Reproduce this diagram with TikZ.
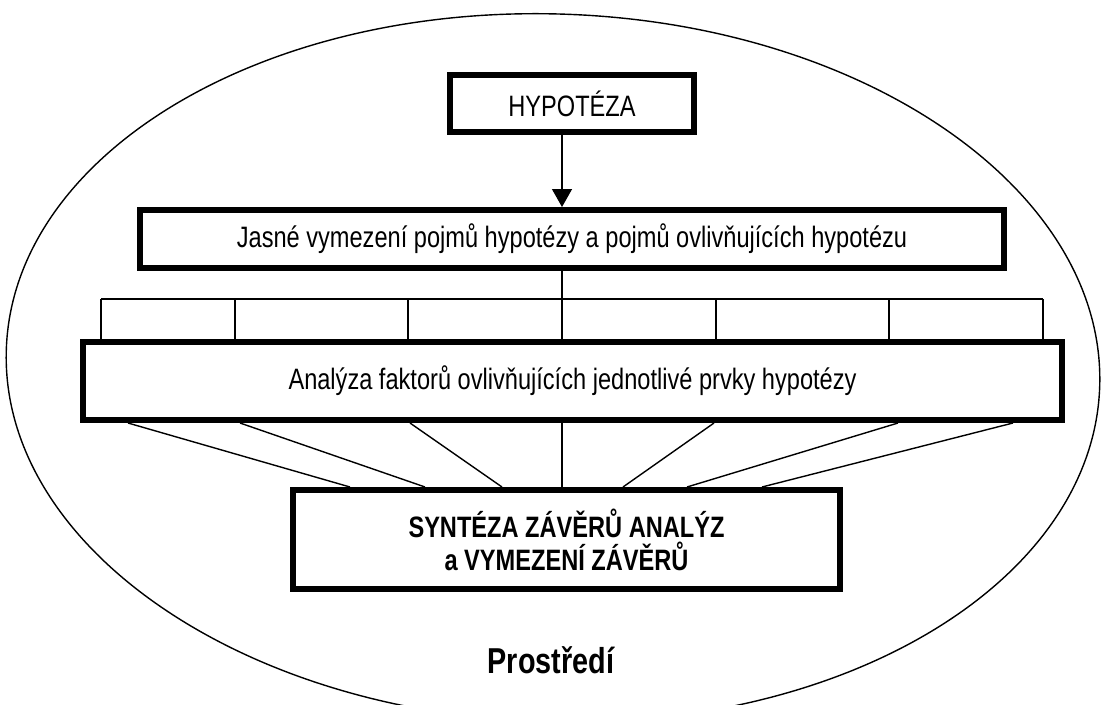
\documentclass[tikz,border=0pt]{standalone}
\usepackage{fontspec}
\setmainfont{Liberation Sans}[FakeStretch=0.8]
\usetikzlibrary{arrows.meta}
\begin{document}
\begin{tikzpicture}[x=1pt,y=-1pt,
  thickbox/.style={draw,line width=6pt,fill=white,inner sep=0pt,font=\fontsize{29.5}{33}\selectfont},
  thin/.style={line width=1.4pt},
  arr/.style={line width=1.4pt,-{Triangle[length=18pt,width=20pt]}}]
\useasboundingbox (0,0) rectangle (1102,704);
\clip (0,0) rectangle (1102,704);
\fill[white] (0,0) rectangle (1102,704);
% environment ellipse
\draw[thin,rotate around={-2:(553,368)}] (553,368) ellipse [x radius=547, y radius=354];
% boxes
\node[thickbox,minimum width=244pt,minimum height=57pt] (hyp) at (572,103.5) {HYPOTÉZA\hspace{40pt}};
\node[thickbox,minimum width=864pt,minimum height=58pt] (jas) at (572,239) {Jasné vymezení pojmů hypotézy a pojmů ovlivňujících hypotézu};
\node[thickbox,minimum width=979pt,minimum height=78pt] (ana) at (572.5,381) {Analýza faktorů ovlivňujících jednotlivé prvky hypotézy};
\node[thickbox,minimum width=547pt,minimum height=99pt,align=center,font=\fontsize{29.5}{33}\selectfont\bfseries] (syn) at (566.5,539.5) {SYNTÉZA ZÁVĚRŮ ANALÝZ\\a VYMEZENÍ ZÁVĚRŮ};
\node[font=\fontsize{36}{40}\selectfont\bfseries,inner sep=0pt] (env) at (551,660) {Prostředí};
% arrow
\draw[arr] (hyp.south -| 562,0) -- (jas.north -| 562,0);
% grid row
\coordinate (g0) at (562,299);
\draw[thin] (jas.south -| g0) -- (g0);
\foreach \x [count=\i] in {101,235,408,562,716,889,1043} {
  \coordinate (t\i) at (\x,299);
  \draw[thin] (t\i) -- (ana.north -| t\i);
}
\draw[thin] (t1) -- (t7);
% connectors to synthesis
\foreach \a/\b [count=\i] in {128/350,240/425,410/502,562/562,714/623,898/687,1013/762} {
  \coordinate (s\i) at (\a,423);
  \coordinate (e\i) at (\b,487);
  \draw[thin] (ana.south -| s\i) -- (syn.north -| e\i);
}
\end{tikzpicture}
\end{document}
